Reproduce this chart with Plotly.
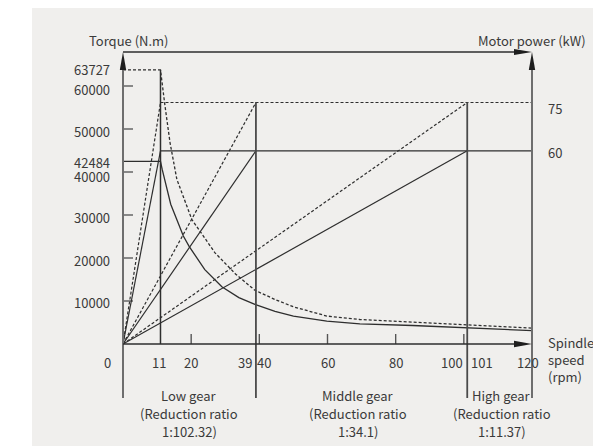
import plotly.graph_objects as go

# ---------------- data ----------------
gear_speeds = [11, 39, 101]          # rpm at which each gear reaches full power
max_speed = 120                      # rpm
rated_power = 60                     # kW (solid lines)
peak_power = 75                      # kW (dashed lines)
rated_torque = 42484                 # N.m
peak_torque = 63727                  # N.m

cont_speed = [0, 11, 11.5, 14, 17.7, 19.4, 24, 29, 34, 38.7, 44.6, 50, 59.8, 69.5, 85, 100.8, 120]
cont_torque = [42484, 42484, 40600, 32500, 25100, 22700, 17300, 13300, 10800, 9200, 7600, 6500,
               5300, 4700, 4300, 3800, 3100]
peak_speed = [0, 11, 12.3, 13.8, 15.8, 20.2, 27, 33, 38.7, 44.6, 50, 59.8, 69.5, 85, 100.8, 120]
peak_torque_curve = [63727, 63727, 55500, 46800, 38300, 28950, 21200, 16300, 12500, 10350, 8650,
                     6500, 5700, 5100, 4400, 3700]

torque_ticks = [10000, 20000, 30000, 40000, 50000, 60000]
speed_ticks = [20, 40, 60, 80, 100]
speed_labels = [11, 20, 39, 40, 60, 80, 100, 101, 120]
gear_names = ["Low gear", "Middle gear", "High gear"]
gear_ratios = ["1:102.32", "1:34.1", "1:11.37"]

# ---------------- layout geometry ----------------
W, H = 593, 446
L, R, T, B = 113, 51, 44, 48
PW, PH = W - L - R, H - T - B
X0, Y0 = 123, 344                 # pixel position of the origin
SX = 409 / 120                    # px per rpm
ST = 43 / 10000                   # px per N.m
SP = 3.22                         # px per kW
TICK = 10                         # tick length in px

def pxx(x):
    return (x - L) / PW

def pxy(y):
    return (H - B - y) / PH

xr = [(L - X0) / SX, (W - R - X0) / SX]
yr = [(Y0 - (H - B)) / ST, (Y0 - T) / ST]
y2r = [(Y0 - (H - B)) / SP, (Y0 - T) / SP]

DARK = "#2e2e2e"
GRAY = "#6e6e6e"
TXT = "#3a3a3a"
FONT = "Noto Sans CJK SC"
DASH = "3px,2px"

fig = go.Figure()

# torque curves
fig.add_trace(go.Scatter(x=cont_speed, y=cont_torque, mode="lines",
                         line=dict(color=DARK, width=1.3), hoverinfo="skip"))
fig.add_trace(go.Scatter(x=peak_speed, y=peak_torque_curve, mode="lines",
                         line=dict(color=DARK, width=1.3, dash=DASH), hoverinfo="skip"))

# power lines (secondary axis)
for p, dash in [(rated_power, "solid"), (peak_power, DASH)]:
    for g in gear_speeds:
        fig.add_trace(go.Scatter(x=[0, g], y=[0, p], yaxis="y2", mode="lines",
                                 line=dict(color=DARK, width=1.2, dash=dash), hoverinfo="skip"))
    fig.add_trace(go.Scatter(x=[gear_speeds[0], max_speed], y=[p, p], yaxis="y2", mode="lines",
                             line=dict(color=DARK, width=1.2, dash=dash), hoverinfo="skip"))

# vertical line at low gear base speed
fig.add_trace(go.Scatter(x=[gear_speeds[0]] * 2, y=[0, peak_torque], mode="lines",
                         line=dict(color=DARK, width=1.5), hoverinfo="skip"))
# vertical gear separators
for g in gear_speeds[1:]:
    fig.add_trace(go.Scatter(x=[g, g], y=[y2r[0], peak_power], yaxis="y2", mode="lines",
                             line=dict(color="#4a4a4a", width=1.8), hoverinfo="skip"))

# tick marks (drawn inside the axes)
for v in torque_ticks:
    fig.add_trace(go.Scatter(x=[0, TICK / SX], y=[v, v], mode="lines",
                             line=dict(color="#666666", width=1.5), hoverinfo="skip"))
for v in speed_ticks:
    fig.add_trace(go.Scatter(x=[v, v], y=[0, TICK / ST], mode="lines",
                             line=dict(color="#555555", width=1.4), hoverinfo="skip"))

shapes = []
# background panel
shapes.append(dict(type="rect", xref="paper", yref="paper", x0=pxx(32), x1=pxx(W + 5),
                   y0=pxy(H + 5), y1=pxy(8), fillcolor="#f0efed", line=dict(width=0), layer="below"))
# left / right axes
for xa in (X0, 532):
    shapes.append(dict(type="line", xref="paper", yref="paper", x0=pxx(xa), x1=pxx(xa),
                       y0=pxy(H - B), y1=pxy(64), line=dict(color=GRAY, width=2)))
    shapes.append(dict(type="path", xref="paper", yref="paper",
                       path=f"M {pxx(xa-3.2)},{pxy(70)} L {pxx(xa+3.2)},{pxy(70)} L {pxx(xa)},{pxy(52)} Z",
                       fillcolor="#1e1e1e", line=dict(width=0)))
# top line with arrow
shapes.append(dict(type="line", xref="paper", yref="paper", x0=pxx(X0), x1=pxx(518),
                   y0=pxy(52), y1=pxy(52), line=dict(color=DARK, width=1.3)))
shapes.append(dict(type="path", xref="paper", yref="paper",
                   path=f"M {pxx(514)},{pxy(49)} L {pxx(514)},{pxy(55)} L {pxx(532)},{pxy(52)} Z",
                   fillcolor="#1e1e1e", line=dict(width=0)))
# x axis line with arrow
shapes.append(dict(type="line", xref="paper", yref="paper", x0=pxx(X0), x1=pxx(518),
                   y0=pxy(Y0), y1=pxy(Y0), line=dict(color=DARK, width=1.5)))
shapes.append(dict(type="path", xref="paper", yref="paper",
                   path=f"M {pxx(514)},{pxy(340.8)} L {pxx(514)},{pxy(347.2)} L {pxx(532)},{pxy(Y0)} Z",
                   fillcolor="#1e1e1e", line=dict(width=0)))

ann = []
tf = dict(family=FONT, size=13, color=TXT)
# torque tick labels and torque level labels
yshift = {60000: -3, 50000: -2, 40000: -4.5, 30000: -2.5, 20000: -2, 10000: -1,
          peak_torque: 0, rated_torque: -1.5}
for v in torque_ticks + [peak_torque, rated_torque]:
    ann.append(dict(x=pxx(111.5), xref="paper", y=v, yref="y", text=str(v), showarrow=False,
                    xanchor="right", yanchor="middle", yshift=yshift[v], font=tf))
ann.append(dict(x=pxx(107), xref="paper", y=pxy(362), yref="paper", text="0", showarrow=False,
                xanchor="center", yanchor="middle", font=tf))
shift = {39: -11, 40: 5, 100: -12, 101: 14.5, 120: -4, 11: -1}
for v in speed_labels:
    ann.append(dict(x=v, xref="x", y=pxy(362), yref="paper", text=str(v), showarrow=False,
                    xanchor="center", yanchor="middle", xshift=shift.get(v, 0), font=tf))
ann.append(dict(x=pxx(546), xref="paper", y=pxy(359), yref="paper",
                text="Spindle<br>speed<br>(rpm)", showarrow=False, xanchor="left",
                yanchor="middle", align="left", font=tf))
bounds = [0] + gear_speeds[1:] + [max_speed]
gshift = [0, -4, 2]
for i, (n, r) in enumerate(zip(gear_names, gear_ratios)):
    for txt, yy in ((n, 395), ("(Reduction ratio", 413.5), (r + ")", 432)):
        ann.append(dict(x=(bounds[i] + bounds[i + 1]) / 2, xref="x", y=pxy(yy), yref="paper",
                        text=txt, showarrow=False, xanchor="center", yanchor="middle",
                        xshift=gshift[i], font=tf))
ann.append(dict(x=pxx(129), xref="paper", y=pxy(40), yref="paper", text="Torque (N.m)",
                showarrow=False, xanchor="center", yanchor="middle", font=tf))
ann.append(dict(x=pxx(532), xref="paper", y=pxy(40), yref="paper", text="Motor power (kW)",
                showarrow=False, xanchor="center", yanchor="middle", font=tf))
for p, ys in ((peak_power, -6), (rated_power, -2)):
    ann.append(dict(x=pxx(555), xref="paper", y=p, yref="y2", text=str(p), showarrow=False,
                    xanchor="center", yanchor="middle", yshift=ys, font=tf))

fig.update_layout(
    width=W, height=H,
    margin=dict(l=L, r=R, t=T, b=B, pad=0),
    paper_bgcolor="white", plot_bgcolor="rgba(0,0,0,0)",
    showlegend=False,
    font=tf,
    xaxis=dict(range=xr, showgrid=False, zeroline=False, showline=False, ticks="",
               showticklabels=False, fixedrange=True),
    yaxis=dict(range=yr, showgrid=False, zeroline=False, showline=False, ticks="",
               showticklabels=False, fixedrange=True),
    yaxis2=dict(range=y2r, overlaying="y", anchor="x", side="right", showgrid=False,
                zeroline=False, showline=False, showticklabels=False, ticks="", fixedrange=True),
    shapes=shapes,
    annotations=ann,
)

fig.write_html("out.html", config={"displayModeBar": False},
               post_script="document.body.style.margin='0';document.body.style.padding='0';")
